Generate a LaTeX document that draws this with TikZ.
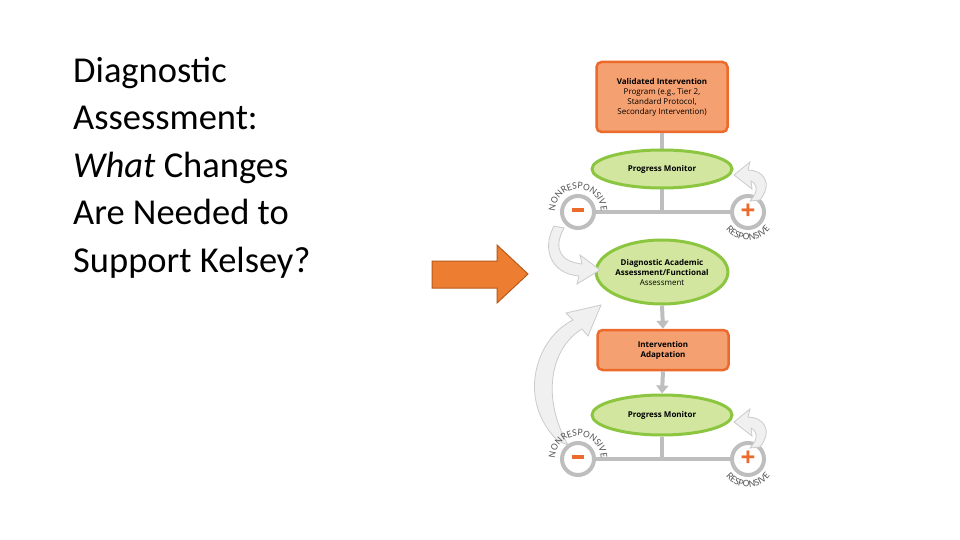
\documentclass[tikz,border=0pt]{standalone}
\usepackage{fontspec}
\setmainfont{Carlito}
\newfontfamily\diag{Open Sans}
\usetikzlibrary{arrows.meta,decorations.text,shapes.geometric}
\definecolor{obox}{HTML}{F5A070}
\definecolor{oline}{HTML}{EC6A2C}
\definecolor{gfill}{HTML}{D3E6A0}
\definecolor{gline}{HTML}{8CC640}
\definecolor{gr}{HTML}{BEBEBE}
\definecolor{arr}{HTML}{ED7D31}
\definecolor{arrl}{HTML}{B85A1C}
\tikzset{
 obx/.style={draw=oline,fill=obox,line width=2.5pt,rounded corners=5pt,align=center,font=\diag\bfseries\fontsize{8}{10}\selectfont,inner sep=2pt},
 gel/.style={ellipse,draw=gline,fill=gfill,line width=3pt,align=center,font=\diag\bfseries\fontsize{8}{10}\selectfont,inner sep=0pt},
 gln/.style={draw=gr,line width=4pt},
 circ/.style={circle,draw=gr,fill=white,line width=4pt,minimum size=32pt,inner sep=0pt,text=oline,font=\diag\bfseries\fontsize{26}{26}\selectfont},
 curv/.style={draw=gr!80,fill=gray!12,line width=0.8pt},
 lab/.style={decorate,decoration={text along path,text align=center,text={#1},text color=gray!70!black}},
 dwn/.style={draw=gr,line width=4pt,-{Triangle[width=12pt,length=8pt]}},
}
\begin{document}
\begin{tikzpicture}[x=1pt,y=1pt]
\useasboundingbox (0,0) rectangle (960,-540);
\fill[white] (0,0) rectangle (960,-540);
\node[anchor=north west,align=left,font=\fontsize{36.5}{47.5}\selectfont,inner sep=0pt] (title) at (73,-57)
 {Diagnostic\\Assessment:\\\textit{What} Changes\\Are Needed to\\Support Kelsey?};
% big orange arrow
\draw[fill=arr,draw=arrl,line width=1pt] (432,-261) -- (497,-261) -- (497,-245) -- (528,-274) -- (497,-303) -- (497,-288) -- (432,-288) -- cycle;
% nodes
\node[obx,minimum width=131pt,minimum height=70pt] (vip) at (662,-97) {Validated Intervention\\{\mdseries Program (e.g., Tier 2,}\\{\mdseries Standard Protocol,}\\{\mdseries Secondary Intervention)}};
\coordinate (j1) at (662,-212);
\coordinate (j2) at (662,-459);
\draw[gln] (vip.south) -- (j1);
\node[gel,minimum width=140pt,minimum height=38pt] (pm1) at (662,-169) {Progress Monitor};
\node[circ] (m1) at (578,-212) {\rule[0.3ex]{12pt}{3.5pt}};
\node[circ] (p1) at (748,-212) {+};
\draw[gln] (m1) -- (p1);
\node[gel,minimum width=124pt,minimum height=64pt] (da) at (662,-272) {Diagnostic Academic\\Assessment/Functional\\{\mdseries Assessment}};
\node[obx,minimum width=131pt,minimum height=40pt] (ia) at (663,-350) {Intervention\\Adaptation};
\draw[dwn] (da.south) -- (ia.north);
\node[gel,minimum width=140pt,minimum height=40pt] (pm2) at (662,-415) {Progress Monitor};
\draw[dwn] (ia.south) -- (pm2.north);
\node[circ] (m2) at (578,-459) {\rule[0.3ex]{12pt}{3.5pt}};
\node[circ] (p2) at (748,-459) {+};
\draw[gln] (pm2.south) -- (j2);
\draw[gln] (m2) -- (p2);
% curved arrows
\draw[curv] (564,-228) .. controls (552,-250) and (562,-262) .. (582,-264) -- (580,-255) -- (600,-270) -- (577,-284) -- (579,-276) .. controls (552,-274) and (541,-250) .. (554,-226) -- cycle;
\draw[curv] (760,-200) .. controls (774,-182) and (762,-170) .. (748,-170) -- (750,-162) -- (734,-175) -- (752,-189) -- (751,-181) .. controls (756,-183) and (760,-190) .. (750,-201) -- cycle;
\draw[curv] (558,-441) .. controls (516,-400) and (536,-338) .. (573,-320) -- (566,-313) -- (601,-305) -- (588,-336) -- (582,-329) .. controls (552,-347) and (540,-395) .. (568,-445) -- cycle;
\draw[curv] (760,-447) .. controls (774,-429) and (762,-417) .. (748,-417) -- (750,-409) -- (734,-422) -- (752,-436) -- (751,-428) .. controls (756,-430) and (760,-437) .. (750,-448) -- cycle;
% labels
\tikzset{every path/.style={font=\diag\bfseries\fontsize{6.5}{7}\selectfont}}
\path[lab=NONRESPONSIVE] (m1) ++(180:23) arc (180:0:23);
\path[lab=RESPONSIVE] (p1) ++(200:28) arc (200:340:28);
\path[lab=NONRESPONSIVE] (m2) ++(180:23) arc (180:0:23);
\path[lab=RESPONSIVE] (p2) ++(200:28) arc (200:340:28);
\end{tikzpicture}
\end{document}
